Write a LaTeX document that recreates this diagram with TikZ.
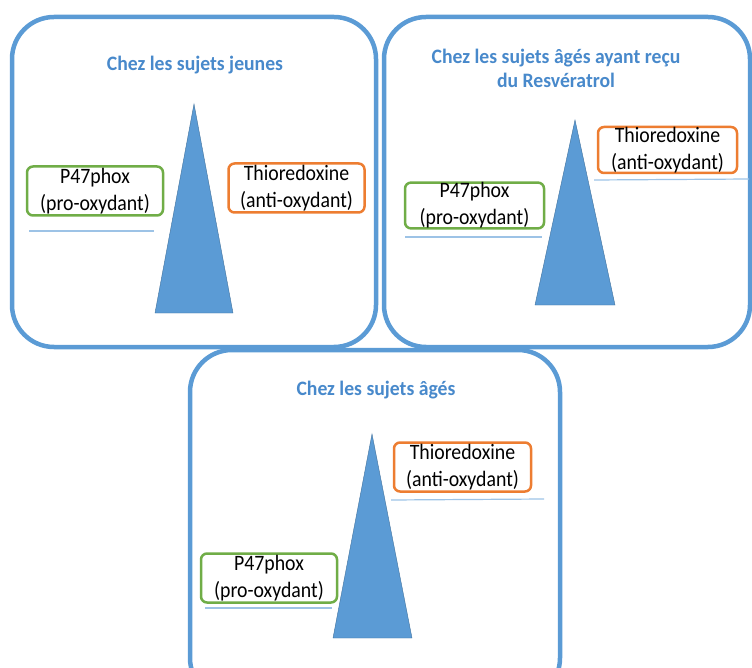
\documentclass[tikz,border=0pt]{standalone}
\usepackage{fontspec}
\setmainfont{Carlito}
\newfontfamily\lblfont[FakeStretch=0.9]{Carlito}
\newfontfamily\ttlfont[FakeStretch=0.96]{Carlito}
\definecolor{panelblue}{RGB}{91,155,213}
\definecolor{titleblue}{RGB}{72,137,203}
\definecolor{trifill}{RGB}{91,155,213}
\definecolor{triedge}{RGB}{65,113,156}
\definecolor{boxgreen}{RGB}{112,173,71}
\definecolor{boxorange}{RGB}{237,125,49}
\definecolor{beamblue}{RGB}{157,195,230}
\begin{document}
\begin{tikzpicture}[x=1pt,y=-1pt,
  panel/.style={draw=panelblue,line width=4.5pt,rounded corners=42pt},
  paneltitle/.style={text=titleblue,font=\ttlfont\fontsize{20.5}{24}\selectfont\bfseries,align=center,inner sep=0pt},
  labelbox/.style={line width=2.5pt,rounded corners=6pt,minimum width=136pt,minimum height=49pt,inner sep=0pt,align=center,font=\lblfont\fontsize{22}{27}\selectfont,text=black,fill=white},
  probox/.style={labelbox,draw=boxgreen},
  antibox/.style={labelbox,draw=boxorange},
  tri/.style={fill=trifill,draw=triedge,line width=0.4pt},
  beam/.style={draw=beamblue,line width=1.2pt}
]
\useasboundingbox (0,0) rectangle (752,668);
\begin{scope}
\clip (0,0) rectangle (752,668);
% panels
\draw[panel] (12,17) rectangle (376,347);
\draw[panel] (384,17) rectangle (750,347);
\draw[panel] (190,350) rectangle (560,700);
\end{scope}

% titles
\node[paneltitle] (t1) at (195,65) {Chez les sujets jeunes};
\node[paneltitle] (t2) at (556,68) {Chez les sujets âgés ayant reçu\\du Resvératrol};
\node[paneltitle] (t3) at (376,390) {Chez les sujets âgés};

% panel 1
\draw[tri] (194,104) -- (233,313) -- (155,313) -- cycle;
\draw[beam] (29,231) -- (154,231);
\node[probox] (g1) at (95,191) {P47phox\\(pro-oxydant)};
\node[antibox] (o1) at (296.5,188) {Thioredoxine\\(anti-oxydant)};

% panel 2
\draw[tri] (575,120) -- (615,305) -- (535,305) -- cycle;
\draw[beam] (405,237) -- (542,237);
\draw[beam] (594,180) -- (749,179);
\node[probox,minimum height=45pt,minimum width=139pt] (g2) at (474.5,205.5) {P47phox\\(pro-oxydant)};
\node[antibox,minimum height=46pt,minimum width=139pt] (o2) at (667.5,150) {Thioredoxine\\(anti-oxydant)};

% panel 3
\draw[tri] (372,434) -- (412,638) -- (333,638) -- cycle;
\draw[beam] (205,608) -- (332,608);
\draw[beam] (391,500) -- (544,499);
\node[probox] (g3) at (269,578) {P47phox\\(pro-oxydant)};
\node[antibox,minimum width=137pt] (o3) at (462.5,467) {Thioredoxine\\(anti-oxydant)};
\end{tikzpicture}
\end{document}
